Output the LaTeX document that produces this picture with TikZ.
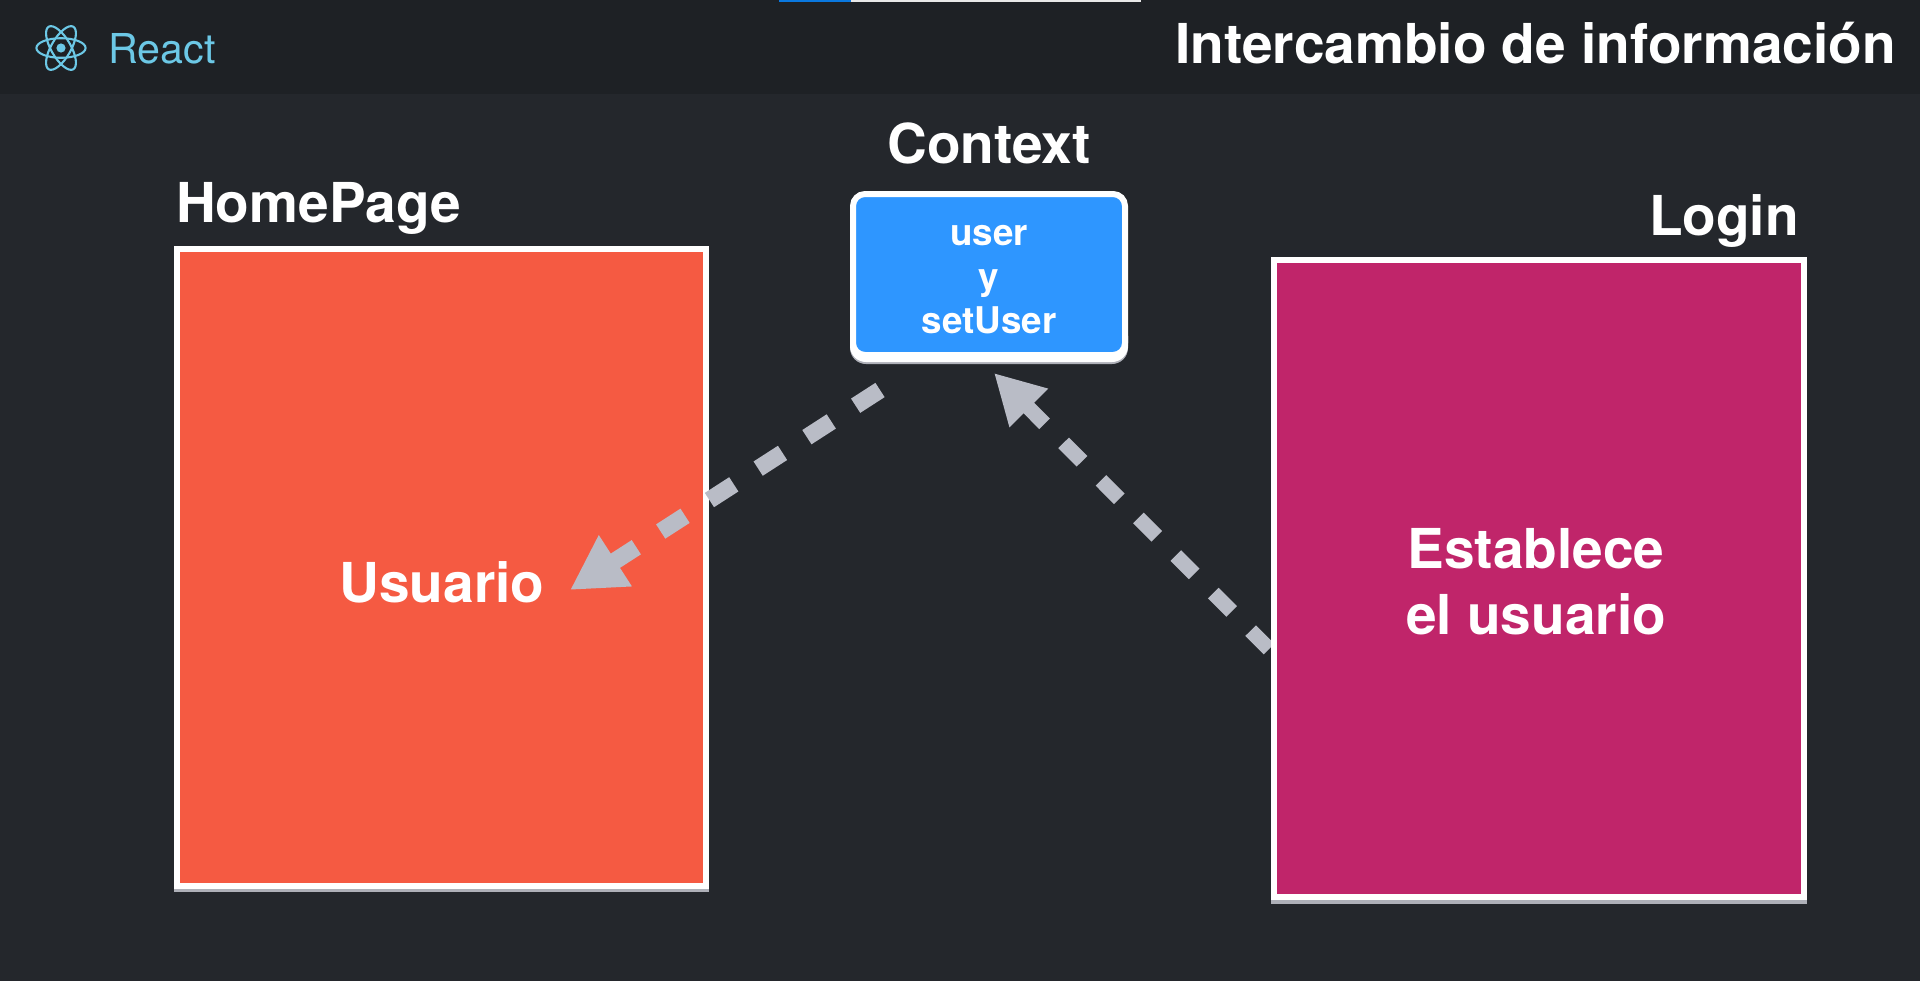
\documentclass[tikz,border=0pt]{standalone}
\usepackage{fontspec}
\setmainfont{TeX Gyre Heros}
\usetikzlibrary{arrows.meta}
\definecolor{pagebg}{HTML}{24272C}
\definecolor{headbg}{HTML}{1E2125}
\definecolor{topblue}{HTML}{0A78E0}
\definecolor{topwhite}{HTML}{E8E8E8}
\definecolor{homefill}{HTML}{F55A42}
\definecolor{loginfill}{HTML}{C0256A}
\definecolor{ctxfill}{HTML}{2E96FF}
\definecolor{arrowgrey}{HTML}{B9BCC6}
\definecolor{reactblue}{HTML}{6CC8E6}
\definecolor{edgeshadow}{HTML}{AEB0B8}
\tikzset{
  x=0.5pt,y=-0.5pt,
  panel/.style={draw=white,line width=3pt,inner sep=0pt,rectangle},
  heading/.style={font=\fontsize{27.5}{33}\selectfont\bfseries,text=white,inner sep=0pt,anchor=base},
  bigtext/.style={font=\fontsize{27.5}{33}\selectfont\bfseries,text=white,inner sep=0pt,align=center},
  ctxtext/.style={font=\fontsize{18.4}{22}\selectfont\bfseries,text=white,inner sep=0pt,align=center},
  flowA/.style={draw=arrowgrey,line width=8.5pt,dash pattern=on 14.5pt off 14.5pt,
     -{Triangle[length=27pt,width=28.5pt,fill=arrowgrey]}},
  flowB/.style={draw=arrowgrey,line width=7.5pt,dash pattern=on 13pt off 13.5pt,
     -{Triangle[length=24.7pt,width=25.5pt,fill=arrowgrey]}},
  orbit/.style={draw=reactblue,line width=1.05pt}
}
\begin{document}
\begin{tikzpicture}
\useasboundingbox (0,0) rectangle (1920,980);
\fill[pagebg] (-6,-6) rectangle (1926,986);
\fill[headbg] (-6,-6) rectangle (1926,94);
\fill[topblue] (779,-6) rectangle (851,2);
\fill[topwhite] (851,-6) rectangle (1141,2);
% React logo
\foreach \a in {0,60,120}{
  \draw[orbit,rotate around={\a:(61,48)}] (61,48) ellipse [x radius=12.3pt,y radius=4.9pt];
}
\fill[reactblue] (61,48) circle [radius=2.3pt];
\node[font=\fontsize{20.6}{24}\selectfont,text=reactblue,inner sep=0pt,anchor=base west] (react) at (108,63) {React};
\node[heading,anchor=base east] (title) at (1896,63) {Intercambio de información};
% bottom edge shadows
\fill[edgeshadow] (174,885) rectangle (708.5,892);
\fill[edgeshadow] (1270.5,896) rectangle (1806.5,904);
\fill[edgeshadow,rounded corners=8pt] (850,330) rectangle (1128,364);
\fill[white,rounded corners=8pt] (850,320) rectangle (1128,362);
% panels
\node[panel,fill=homefill,minimum width=264.25pt,minimum height=318.5pt] (home) at (441.25,567) {};
\coordinate (loginOut) at (1269,649);
\coordinate (ctxIn) at (994,373);
\draw[flowB] (loginOut) -- (ctxIn);
\node[panel,fill=loginfill,minimum width=265pt,minimum height=318.5pt] (login) at (1538.5,578.5) {};
\node[panel,fill=ctxfill,rounded corners=6pt,minimum width=136pt,minimum height=80.5pt] (ctx) at (989,274.5) {};
\node[heading] (homeLbl) at (318.5,222) {HomePage};
\node[heading] (ctxLbl) at (989,163) {Context};
\node[heading] (loginLbl) at (1724,235) {Login};
\node[ctxtext] (ctxTxt) at (989,280) {user\\y\\setUser};
\node[bigtext] (usuario) at (442,582) {Usuario};
\node[bigtext] (establece) at (1536,582) {Establece\\el usuario};
\coordinate (ctxOut) at (880,390);
\coordinate (usrIn) at (570,590);
\draw[flowA] (ctxOut) -- (usrIn);
\end{tikzpicture}
\end{document}
